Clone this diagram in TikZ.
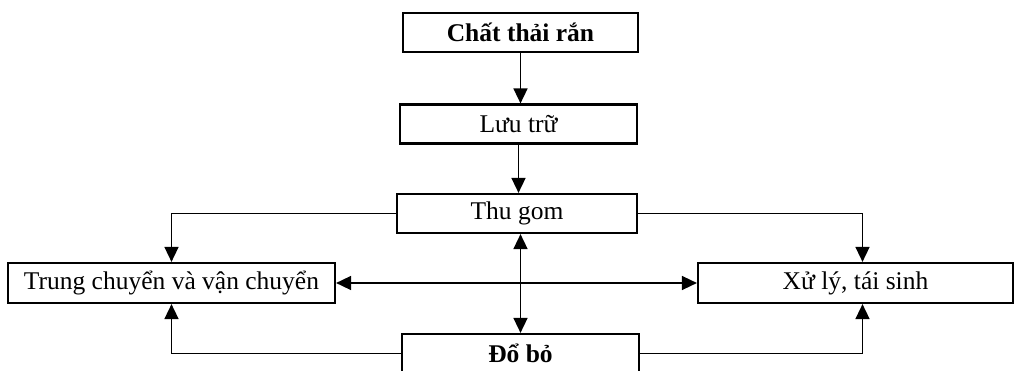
\documentclass[tikz,border=0pt]{standalone}
\usepackage{fontspec}
\setmainfont{Liberation Serif}
\usetikzlibrary{arrows.meta,positioning}

\tikzset{
  box/.style={draw,line width=2.2pt,inner sep=0pt,minimum height=39pt,font=\fontsize{25.5}{30}\selectfont},
  boldbox/.style={box,font=\fontsize{25.5}{30}\selectfont\bfseries},
  link/.style={line width=1.6pt},
}

\begin{document}
\begin{tikzpicture}[>={Triangle[length=15pt,width=14pt]},x=1pt,y=-1pt]
\useasboundingbox (0,0) rectangle (1014,371);
% boxes
\node[boldbox,minimum width=235pt] (chat) at (520.5,32.5){Chất thải rắn};
\node[box,minimum width=237pt] (luu) at (518.5,124){Lưu trữ};
\node[box,minimum width=240pt] (thu) at (517,213.5){Thu gom};
\node[box,minimum width=327pt,minimum height=40pt] (trung) at (171.5,283){Trung chuyển và vận chuyển};
\node[box,minimum width=315pt,minimum height=40pt] (xu) at (855.5,283){Xử lý, tái sinh};
\node[boldbox,minimum width=237pt] (dobo) at (520.5,353.5){Đổ bỏ};
% connectors
\draw[link,->] (chat) -- (chat|-luu.north);
\draw[link,->] (luu.south) -- (luu.south|-thu.north);
\draw[link,<->] (thu.south-|dobo.north) -- (dobo.north);
\draw[link,<->] (trung) -- (xu);
\draw[link,->] (thu) -| (trung);
\draw[link,->] (thu) -| ([xshift=7pt]xu.north);
\draw[link,->] (dobo) -| (trung);
\draw[link,->] (dobo) -| ([xshift=7pt]xu.south);
\end{tikzpicture}
\end{document}
